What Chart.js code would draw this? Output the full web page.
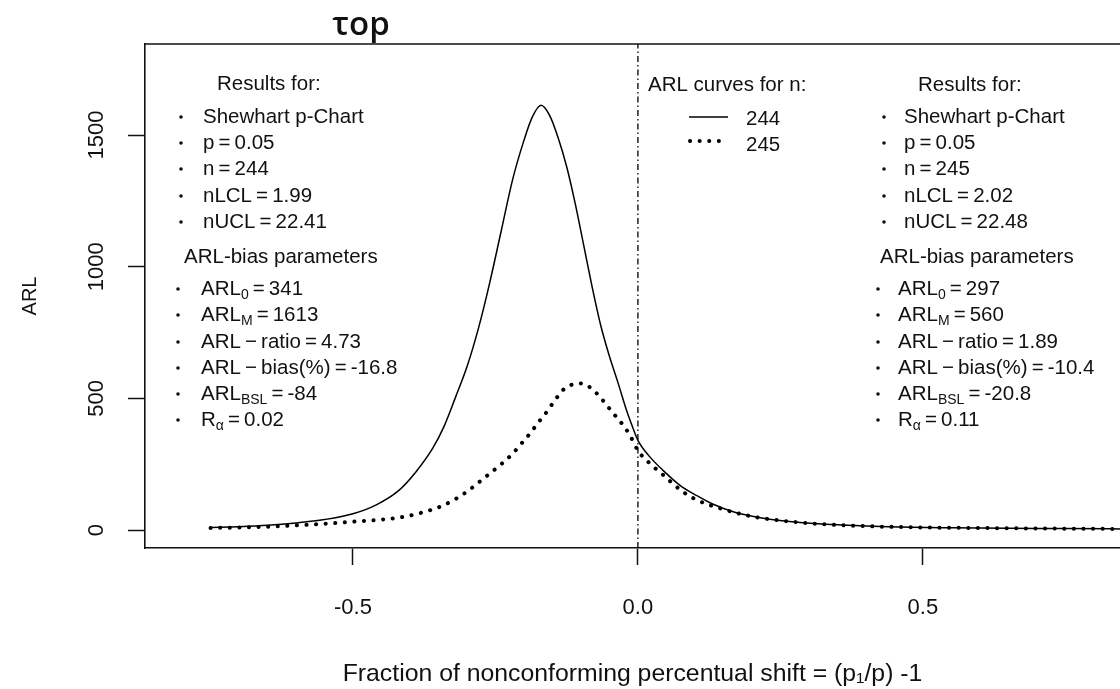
<!DOCTYPE html>
<html><head><meta charset="utf-8">
<script src="https://cdn.jsdelivr.net/npm/chart.js@4"></script>
<style>html,body{margin:0;padding:0;background:#fff;overflow:hidden}#wrap{width:1120px;height:689px;position:relative}</style>
</head><body><div id="wrap"><canvas id="c" width="1120" height="689"></canvas></div>
<script>
// ---- data ----
const shiftN244 = [-0.75,-0.70,-0.65,-0.60,-0.55,-0.50,-0.46,-0.42,-0.39,-0.36,-0.34,-0.32,-0.30,-0.28,-0.26,-0.24,-0.22,-0.20,-0.185,-0.17,-0.155,-0.14,-0.125,-0.11,-0.095,-0.08,-0.065,-0.05,-0.035,-0.02,-0.01,0,0.021,0.045,0.075,0.10,0.13,0.17,0.22,0.28,0.35,0.44,0.55,0.65,0.75,0.87];
const arlN244   = [10,13,18,27,40,62,95,150,220,311,395,505,620,765,940,1135,1330,1480,1570,1613,1575,1490,1380,1240,1080,920,775,660,560,455,395,341,278,225,168,135,100,68,45,30,20,13,9,7,6,4];
const shiftN245 = [-0.75,-0.70,-0.65,-0.60,-0.55,-0.50,-0.45,-0.4175,-0.38,-0.347,-0.32,-0.30,-0.28,-0.26,-0.24,-0.219,-0.204,-0.189,-0.175,-0.16,-0.145,-0.13,-0.115,-0.102,-0.09,-0.08,-0.0667,-0.055,-0.043,-0.03,-0.014,0,0.02,0.045,0.075,0.10,0.145,0.20,0.26,0.32,0.40,0.50,0.60,0.70,0.80,0.87];
const arlN245   = [8,10,13,18,24,32,40,48,66,89,118,146,180,215,250,292,330,368,408,449,495,535,553,557,550,535,506,475,443,410,360,302,255,208,152,118,82,52,34,23,15,10,8,6,5,4];
const sampleSizes = ['244','245'];
const xTickValues = [-0.5, 0, 0.5];
const yTickValues = [0, 500, 1000, 1500];
const chartTitle = 'τop';
const xTitle = 'Fraction of nonconforming percentual shift = (p\u2081/p) -1';
const yTitle = 'ARL';
const legendTitle = 'ARL curves for n:';
const resultsHeader = 'Results for:';
const paramsHeader = 'ARL-bias parameters';
const T = '\u2009';
const resultsN244 = ['Shewhart p-Chart', 'p'+T+'='+T+'0.05', 'n'+T+'='+T+'244', 'nLCL'+T+'='+T+'1.99', 'nUCL'+T+'='+T+'22.41'];
const resultsN245 = ['Shewhart p-Chart', 'p'+T+'='+T+'0.05', 'n'+T+'='+T+'245', 'nLCL'+T+'='+T+'2.02', 'nUCL'+T+'='+T+'22.48'];
// [main, subscript, rest]
const paramsN244 = [['ARL','0',T+'='+T+'341'],['ARL','M',T+'='+T+'1613'],['ARL'+T+'\u2212'+T+'ratio'+T+'='+T+'4.73','',''],['ARL'+T+'\u2212'+T+'bias(%)'+T+'='+T+'-16.8','',''],['ARL','BSL',T+'='+T+'-84'],['R','\u03b1',T+'='+T+'0.02']];
const paramsN245 = [['ARL','0',T+'='+T+'297'],['ARL','M',T+'='+T+'560'],['ARL'+T+'\u2212'+T+'ratio'+T+'='+T+'1.89','',''],['ARL'+T+'\u2212'+T+'bias(%)'+T+'='+T+'-10.4','',''],['ARL','BSL',T+'='+T+'-20.8'],['R','\u03b1',T+'='+T+'0.11']];

const FONT = '"Liberation Sans", Arial, sans-serif';
const TXT = '20.5px ' + FONT;
const SUB = '14px ' + FONT;
const DOTS = [0.1, 9.5];

function pts(xs, ys){ return xs.map((x,i)=>({x:x, y:ys[i]})); }

function drawSeg(ctx, x, y, seg){
  ctx.font = TXT;
  ctx.fillText(seg[0], x, y);
  let w = ctx.measureText(seg[0]).width;
  if (seg[1]) {
    ctx.font = SUB;
    ctx.fillText(seg[1], x + w, y + 6);
    w += ctx.measureText(seg[1]).width;
  }
  if (seg[2]) {
    ctx.font = TXT;
    ctx.fillText(seg[2], x + w, y);
  }
}
function bullet(ctx, x, y){
  ctx.beginPath(); ctx.arc(x, y, 1.8, 0, Math.PI*2); ctx.fill();
}

const annot = {
  id: 'annot',
  afterDraw(chart){
    const ctx = chart.ctx, a = chart.chartArea;
    ctx.save();
    // top border of the plot box
    ctx.strokeStyle = '#111'; ctx.lineWidth = 1.6;
    ctx.beginPath(); ctx.moveTo(a.left - 0.8, a.top); ctx.lineTo(a.right, a.top); ctx.stroke();
    ctx.fillStyle = '#111'; ctx.textBaseline = 'middle';
    // title
    ctx.font = '600 33px "Open Sans", sans-serif';
    ctx.textAlign = 'center';
    ctx.fillText(chartTitle, 361, 26);
    ctx.textAlign = 'left';
    // left block
    const rowsR = [117,143,169,196,222];
    const rowsP = [289,315,342,368,394,420];
    ctx.font = TXT;
    ctx.fillText(resultsHeader, 217, 84);
    resultsN244.forEach((t,i)=>{ bullet(ctx,181,rowsR[i]); drawSeg(ctx,203,rowsR[i],[t,'','']); });
    ctx.font = TXT;
    ctx.fillText(paramsHeader, 184, 257);
    paramsN244.forEach((s,i)=>{ bullet(ctx,178,rowsP[i]); drawSeg(ctx,201,rowsP[i],s); });
    // right block
    ctx.font = TXT;
    ctx.fillText(resultsHeader, 918, 85);
    resultsN245.forEach((t,i)=>{ bullet(ctx,884,rowsR[i]); drawSeg(ctx,904,rowsR[i],[t,'','']); });
    ctx.font = TXT;
    ctx.fillText(paramsHeader, 880, 257);
    paramsN245.forEach((s,i)=>{ bullet(ctx,878,rowsP[i]); drawSeg(ctx,898,rowsP[i],s); });
    // legend
    ctx.font = TXT;
    ctx.fillText(legendTitle, 648, 85);
    ctx.strokeStyle = '#000'; ctx.lineWidth = 1.6;
    ctx.beginPath(); ctx.moveTo(689,117); ctx.lineTo(728,117); ctx.stroke();
    ctx.lineWidth = 4; ctx.lineCap = 'round'; ctx.setLineDash(DOTS);
    ctx.beginPath(); ctx.moveTo(690,141); ctx.lineTo(728,141); ctx.stroke();
    ctx.setLineDash([]);
    ctx.fillText(sampleSizes[0], 746, 119);
    ctx.fillText(sampleSizes[1], 746, 145);
    ctx.restore();
  }
};

new Chart(document.getElementById('c'), {
  type: 'scatter',
  data: {
    datasets: [
      { label: sampleSizes[0], data: pts(shiftN244, arlN244), showLine: true, borderColor: '#000', borderWidth: 1.5, pointRadius: 0, cubicInterpolationMode: 'monotone' },
      { label: sampleSizes[1], data: pts(shiftN245, arlN245), showLine: true, borderColor: '#000', borderWidth: 4, borderDash: DOTS, borderCapStyle: 'round', pointRadius: 0, cubicInterpolationMode: 'monotone' },
      { label: 'shift 0', data: [{x:0,y:-68},{x:0,y:1846}], showLine: true, borderColor: '#000', borderWidth: 1.3, borderDash: [6,3,1.5,3], pointRadius: 0 }
    ]
  },
  options: {
    responsive: false, animation: false,
    layout: { padding: { top: 44, left: 0, right: 0, bottom: 0 } },
    plugins: { legend: { display: false }, tooltip: { enabled: false }, title: { display: false } },
    scales: {
      x: {
        type: 'linear', min: -0.865, max: 0.846,
        afterBuildTicks: s => { s.ticks = xTickValues.map(v => ({ value: v })); },
        afterFit: s => { s.height = 141; },
        ticks: { autoSkip: false, maxRotation: 0, minRotation: 0, padding: 30, color: '#111', font: { family: FONT, size: 22 }, callback: v => Number(v).toFixed(1) },
        grid: { drawOnChartArea: false, drawTicks: true, tickLength: 17, tickWidth: 1.5, tickColor: '#111' },
        border: { display: true, color: '#111', width: 1.6 },
        title: { display: true, text: xTitle, color: '#111', font: { family: FONT, size: 24.8 }, padding: { top: 0, bottom: 0 } }
      },
      y: {
        type: 'linear', min: -68, max: 1846,
        afterBuildTicks: s => { s.ticks = yTickValues.map(v => ({ value: v })); },
        afterFit: s => { s.width = 145; },
        ticks: { autoSkip: false, minRotation: 90, maxRotation: 90, crossAlign: 'center', padding: 7, color: '#111', font: { family: FONT, size: 22 }, callback: v => String(v) },
        grid: { drawOnChartArea: false, drawTicks: true, tickLength: 17, tickWidth: 1.5, tickColor: '#111' },
        border: { display: true, color: '#111', width: 1.6 },
        title: { display: true, text: yTitle, color: '#111', font: { family: FONT, size: 20 }, padding: { top: 18, bottom: 0 } }
      }
    }
  },
  plugins: [annot]
});
</script></body></html>
